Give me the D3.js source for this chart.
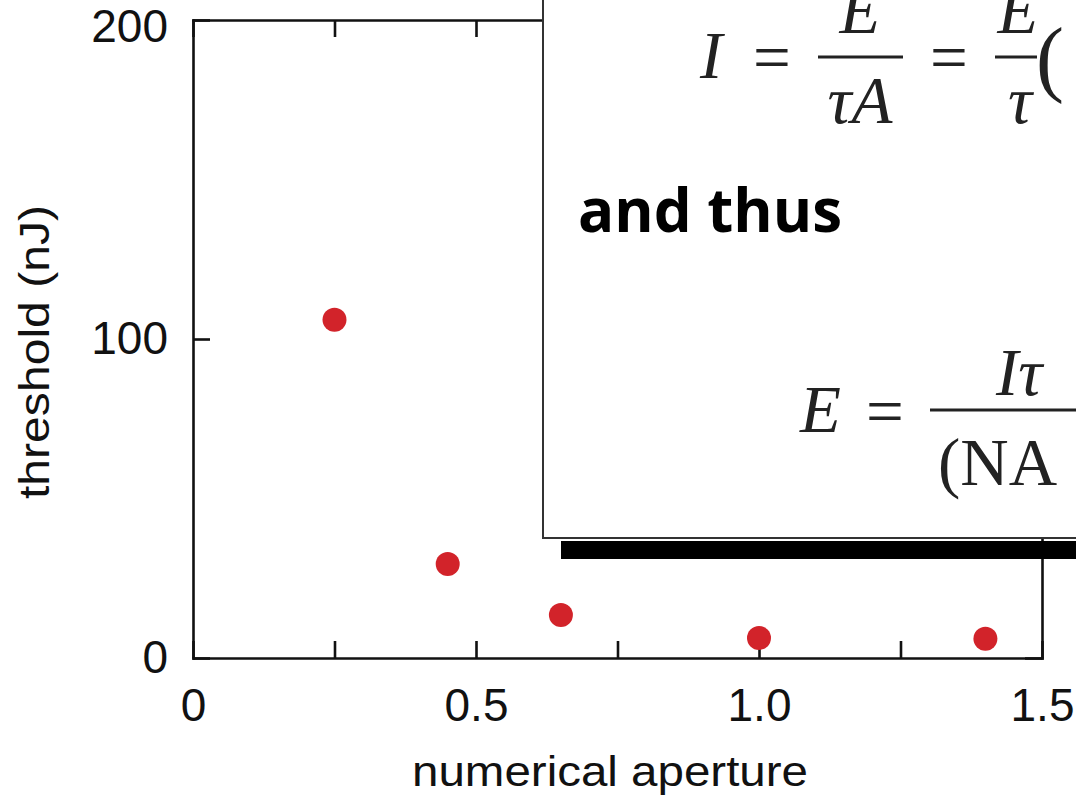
<!DOCTYPE html>
<html>
<head>
<meta charset="utf-8">
<script src="https://d3js.org/d3.v7.min.js"></script>
<style>
    body { margin: 0; background: #fff; }
    .axis path, .axis line { stroke: #111; stroke-width: 2.6; }
    .axis text { font-family: "Liberation Sans", Arial, sans-serif; font-size: 46px; fill: #111; }
    .title { font-family: "Liberation Sans", Arial, sans-serif; font-size: 43px; fill: #111; }
    .math { font-family: "Liberation Serif", "Times New Roman", serif; font-size: 67px; fill: #222; }
    .math .v { font-style: italic; }
    .words { font-family: "Open Sans", sans-serif; font-weight: bold; font-size: 60px; fill: #000; }
</style>
</head>
<body>
<div id="chart"></div>
<script>

// numerical aperture vs. damage threshold
var aperture = [0.25, 0.45, 0.65, 1.0, 1.4];
var threshold = [106, 29.5, 13.5, 6.3, 6.0];

var xTicks = [0, 0.25, 0.5, 0.75, 1.0, 1.25, 1.5];
var xLabels = {0: "0", 0.5: "0.5", 1: "1.0", 1.5: "1.5"};
var yTicks = [0, 100, 200];

var W = 1076, H = 798;
var margin = {top: 20, right: 34, bottom: 140, left: 193};
var width = W - margin.left - margin.right;   // 849
var height = H - margin.top - margin.bottom;  // 638

var svg = d3.select("#chart").append("svg")
    .attr("width", W)
    .attr("height", H);

var g = svg.append("g")
    .attr("transform", "translate(" + margin.left + "," + margin.top + ")");

var x = d3.scaleLinear().domain([0, 1.5]).range([0, width]);
var y = d3.scaleLinear().domain([0, 200]).range([height, 0]);

// frame with inward ticks on every side
g.append("g")
    .attr("class", "axis")
    .attr("transform", "translate(0," + height + ")")
    .call(d3.axisBottom(x).tickValues(xTicks).tickSizeInner(-17).tickSizeOuter(0).tickPadding(30)
        .tickFormat(function(d) { return xLabels[d] || ""; }));

g.append("g")
    .attr("class", "axis")
    .call(d3.axisTop(x).tickValues(xTicks).tickSizeInner(-17).tickSizeOuter(0).tickFormat(""));

var yAxis = g.append("g")
    .attr("class", "axis")
    .call(d3.axisLeft(y).tickValues(yTicks).tickSizeInner(-17).tickSizeOuter(0).tickPadding(25)
        .tickFormat(d3.format("d")));
// keep the top label inside the page
yAxis.selectAll(".tick text").filter(function(d) { return d === 200; }).attr("dy", "0.47em");

g.append("g")
    .attr("class", "axis")
    .attr("transform", "translate(" + width + ",0)")
    .call(d3.axisRight(y).tickValues(yTicks).tickSizeInner(-17).tickSizeOuter(0).tickFormat(""));

g.selectAll(".axis .domain").attr("stroke-linecap", "square");

// data points
g.selectAll("circle.pt")
    .data(aperture)
    .enter()
    .append("circle")
    .attr("class", "pt")
    .attr("cx", function(d) { return x(d); })
    .attr("cy", function(d, i) { return y(threshold[i]); })
    .attr("r", 12)
    .attr("fill", "#d2232a");

// axis titles
svg.append("text")
    .attr("class", "title")
    .attr("x", 610)
    .attr("y", 786)
    .attr("text-anchor", "middle")
    .attr("textLength", 396)
    .attr("lengthAdjust", "spacingAndGlyphs")
    .text("numerical aperture");

svg.append("text")
    .attr("class", "title")
    .attr("transform", "translate(49,352) rotate(-90)")
    .attr("text-anchor", "middle")
    .attr("textLength", 294)
    .attr("lengthAdjust", "spacingAndGlyphs")
    .text("threshold (nJ)");

// overlaid slide box with shadow
svg.append("rect")
    .attr("x", 561).attr("y", 541)
    .attr("width", 600).attr("height", 18)
    .attr("fill", "#000");

svg.append("rect")
    .attr("x", 543).attr("y", -10)
    .attr("width", 600).attr("height", 548)
    .attr("fill", "#fff")
    .attr("stroke", "#333")
    .attr("stroke-width", 2);

var m = svg.append("g").attr("class", "math");

function t(px, py, str, italic, anchor, size) {
    var el = m.append("text").attr("x", px).attr("y", py).text(str);
    if (italic) el.attr("class", "v");
    if (anchor) el.attr("text-anchor", anchor);
    if (size) el.style("font-size", size + "px");
    return el;
}
function bar(x1, x2, yy) {
    m.append("line").attr("x1", x1).attr("x2", x2).attr("y1", yy).attr("y2", yy)
        .attr("stroke", "#222").attr("stroke-width", 3);
}

// I = E / (tau A) = E / tau (
t(700, 78, "I", true);
t(753, 80, "=");
bar(818, 903, 57);
t(860, 33, "E", true, "middle");
t(860, 123, "\u03c4A", true, "middle");
t(930, 80, "=");
bar(995, 1037, 57);
t(1018, 33, "E", true, "middle");
t(1020, 123, "\u03c4", true, "middle");
t(1036, 86, "(", false, null, 84);

// and thus
svg.append("text")
    .attr("class", "words")
    .attr("x", 578)
    .attr("y", 232)
    .text("and thus");

// E = I tau / (NA
t(800, 432, "E", true);
t(866, 434, "=");
bar(930, 1080, 410);
t(996, 395, "I\u03c4", true);
t(938, 485, "(NA");

</script>
</body>
</html>
